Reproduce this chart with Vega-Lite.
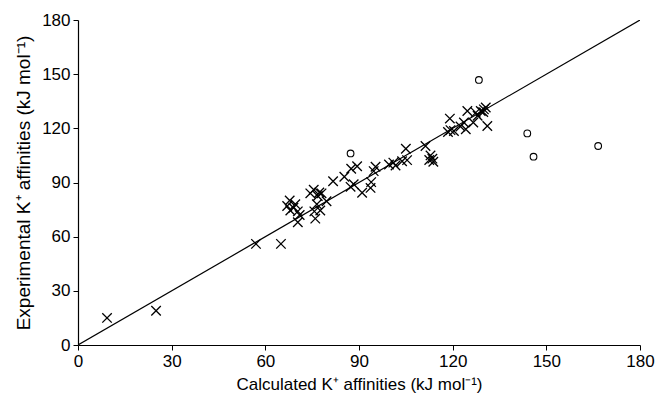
{
  "$schema": "https://vega.github.io/schema/vega-lite/v6.json",
  "width": 562,
  "height": 325,
  "autosize": "none",
  "padding": {"left": 78, "top": 20, "right": 15, "bottom": 56},
  "background": "white",
  "config": {
    "view": {"stroke": null},
    "font": "Liberation Sans",
    "axis": {
      "grid": false,
      "labelFlush": false,
      "domainColor": "black",
      "domainWidth": 1.2,
      "tickColor": "black",
      "tickSize": 5,
      "labelColor": "black",
      "titleColor": "black",
      "labelFontSize": 17,
      "titleFontSize": 17,
      "titleFontWeight": "normal",
      "labelFont": "Liberation Sans",
      "titleFont": "Liberation Sans"
    }
  },
  "datasets": {
    "pts": [
      {"calc": 9.3, "exp": 15, "kind": "x"},
      {"calc": 25, "exp": 19, "kind": "x"},
      {"calc": 57, "exp": 56, "kind": "x"},
      {"calc": 65, "exp": 56, "kind": "x"},
      {"calc": 67.8, "exp": 80, "kind": "x"},
      {"calc": 67, "exp": 77, "kind": "x"},
      {"calc": 69.6, "exp": 78, "kind": "x"},
      {"calc": 68, "exp": 74.5, "kind": "x"},
      {"calc": 70.4, "exp": 74, "kind": "x"},
      {"calc": 71, "exp": 72, "kind": "x"},
      {"calc": 70.4, "exp": 68, "kind": "x"},
      {"calc": 69, "exp": 76, "kind": "x"},
      {"calc": 75.5, "exp": 86, "kind": "x"},
      {"calc": 77.3, "exp": 84.5, "kind": "x"},
      {"calc": 76.8, "exp": 82.5, "kind": "x"},
      {"calc": 74.4, "exp": 84, "kind": "x"},
      {"calc": 78, "exp": 84, "kind": "x"},
      {"calc": 75.7, "exp": 74, "kind": "x"},
      {"calc": 77.6, "exp": 74.5, "kind": "x"},
      {"calc": 76, "exp": 70, "kind": "x"},
      {"calc": 79.6, "exp": 79.6, "kind": "x"},
      {"calc": 76.5, "exp": 78, "kind": "x"},
      {"calc": 81.7, "exp": 90.7, "kind": "x"},
      {"calc": 85.3, "exp": 93.2, "kind": "x"},
      {"calc": 87.5, "exp": 97.6, "kind": "x"},
      {"calc": 89.4, "exp": 99, "kind": "x"},
      {"calc": 88.3, "exp": 89, "kind": "x"},
      {"calc": 87.3, "exp": 87.6, "kind": "x"},
      {"calc": 91, "exp": 84.3, "kind": "x"},
      {"calc": 93.7, "exp": 87, "kind": "x"},
      {"calc": 93.9, "exp": 90.2, "kind": "x"},
      {"calc": 94.7, "exp": 96.3, "kind": "x"},
      {"calc": 95.3, "exp": 98.7, "kind": "x"},
      {"calc": 99.6, "exp": 100, "kind": "x"},
      {"calc": 101.7, "exp": 99.4, "kind": "x"},
      {"calc": 101, "exp": 101, "kind": "x"},
      {"calc": 103.8, "exp": 101.8, "kind": "x"},
      {"calc": 105.4, "exp": 102.4, "kind": "x"},
      {"calc": 105, "exp": 108.7, "kind": "x"},
      {"calc": 111.3, "exp": 110.2, "kind": "x"},
      {"calc": 112.9, "exp": 105, "kind": "x"},
      {"calc": 113.5, "exp": 103.2, "kind": "x"},
      {"calc": 113.8, "exp": 101.5, "kind": "x"},
      {"calc": 112.5, "exp": 102.5, "kind": "x"},
      {"calc": 119.1, "exp": 125.4, "kind": "x"},
      {"calc": 119.3, "exp": 119, "kind": "x"},
      {"calc": 120.4, "exp": 118.5, "kind": "x"},
      {"calc": 124.7, "exp": 129.6, "kind": "x"},
      {"calc": 123.6, "exp": 123.2, "kind": "x"},
      {"calc": 124.2, "exp": 119.5, "kind": "x"},
      {"calc": 126.6, "exp": 123.2, "kind": "x"},
      {"calc": 127.4, "exp": 128.7, "kind": "x"},
      {"calc": 129, "exp": 129.6, "kind": "x"},
      {"calc": 130.6, "exp": 131.5, "kind": "x"},
      {"calc": 131.1, "exp": 121.3, "kind": "x"},
      {"calc": 129.8, "exp": 129, "kind": "x"},
      {"calc": 122.5, "exp": 121, "kind": "x"},
      {"calc": 118.5, "exp": 118, "kind": "x"},
      {"calc": 128, "exp": 127, "kind": "x"},
      {"calc": 130, "exp": 130.5, "kind": "x"},
      {"calc": 87.3, "exp": 106.1, "kind": "o"},
      {"calc": 128.4, "exp": 146.8, "kind": "o"},
      {"calc": 143.9, "exp": 117.2, "kind": "o"},
      {"calc": 145.9, "exp": 104.3, "kind": "o"},
      {"calc": 166.6, "exp": 110.2, "kind": "o"}
    ],
    "fit": [
      {"calc": 0, "exp": 0},
      {"calc": 180, "exp": 180}
    ]
  },
  "layer": [
    {
      "data": {"name": "fit"},
      "mark": {"type": "line", "color": "black", "strokeWidth": 1.2, "clip": true},
      "encoding": {
        "x": {"field": "calc", "type": "quantitative", "scale": {"domain": [0, 180], "nice": false},
              "axis": {"values": [0, 30, 60, 90, 120, 150, 180], "title": "Calculated K⁺ affinities (kJ mol⁻¹)", "titlePadding": 7, "labelPadding": 3}},
        "y": {"field": "exp", "type": "quantitative", "scale": {"domain": [0, 180], "nice": false},
              "axis": {"values": [0, 30, 60, 90, 120, 150, 180], "title": "Experimental K⁺ affinities (kJ mol⁻¹)", "titleFontSize": 19, "titlePadding": 8, "labelPadding": 3}}
      }
    },
    {
      "data": {"name": "pts"},
      "transform": [{"filter": "datum.kind === 'x'"}],
      "mark": {"type": "point", "shape": "M-1,-1L1,1M-1,1L1,-1", "filled": false, "color": "black", "strokeWidth": 1.3, "size": 90, "opacity": 1},
      "encoding": {
        "x": {"field": "calc", "type": "quantitative"},
        "y": {"field": "exp", "type": "quantitative"}
      }
    },
    {
      "data": {"name": "pts"},
      "transform": [{"filter": "datum.kind === 'o'"}],
      "mark": {"type": "point", "shape": "circle", "filled": false, "color": "black", "strokeWidth": 1.1, "size": 45, "opacity": 1},
      "encoding": {
        "x": {"field": "calc", "type": "quantitative"},
        "y": {"field": "exp", "type": "quantitative"}
      }
    }
  ]
}
